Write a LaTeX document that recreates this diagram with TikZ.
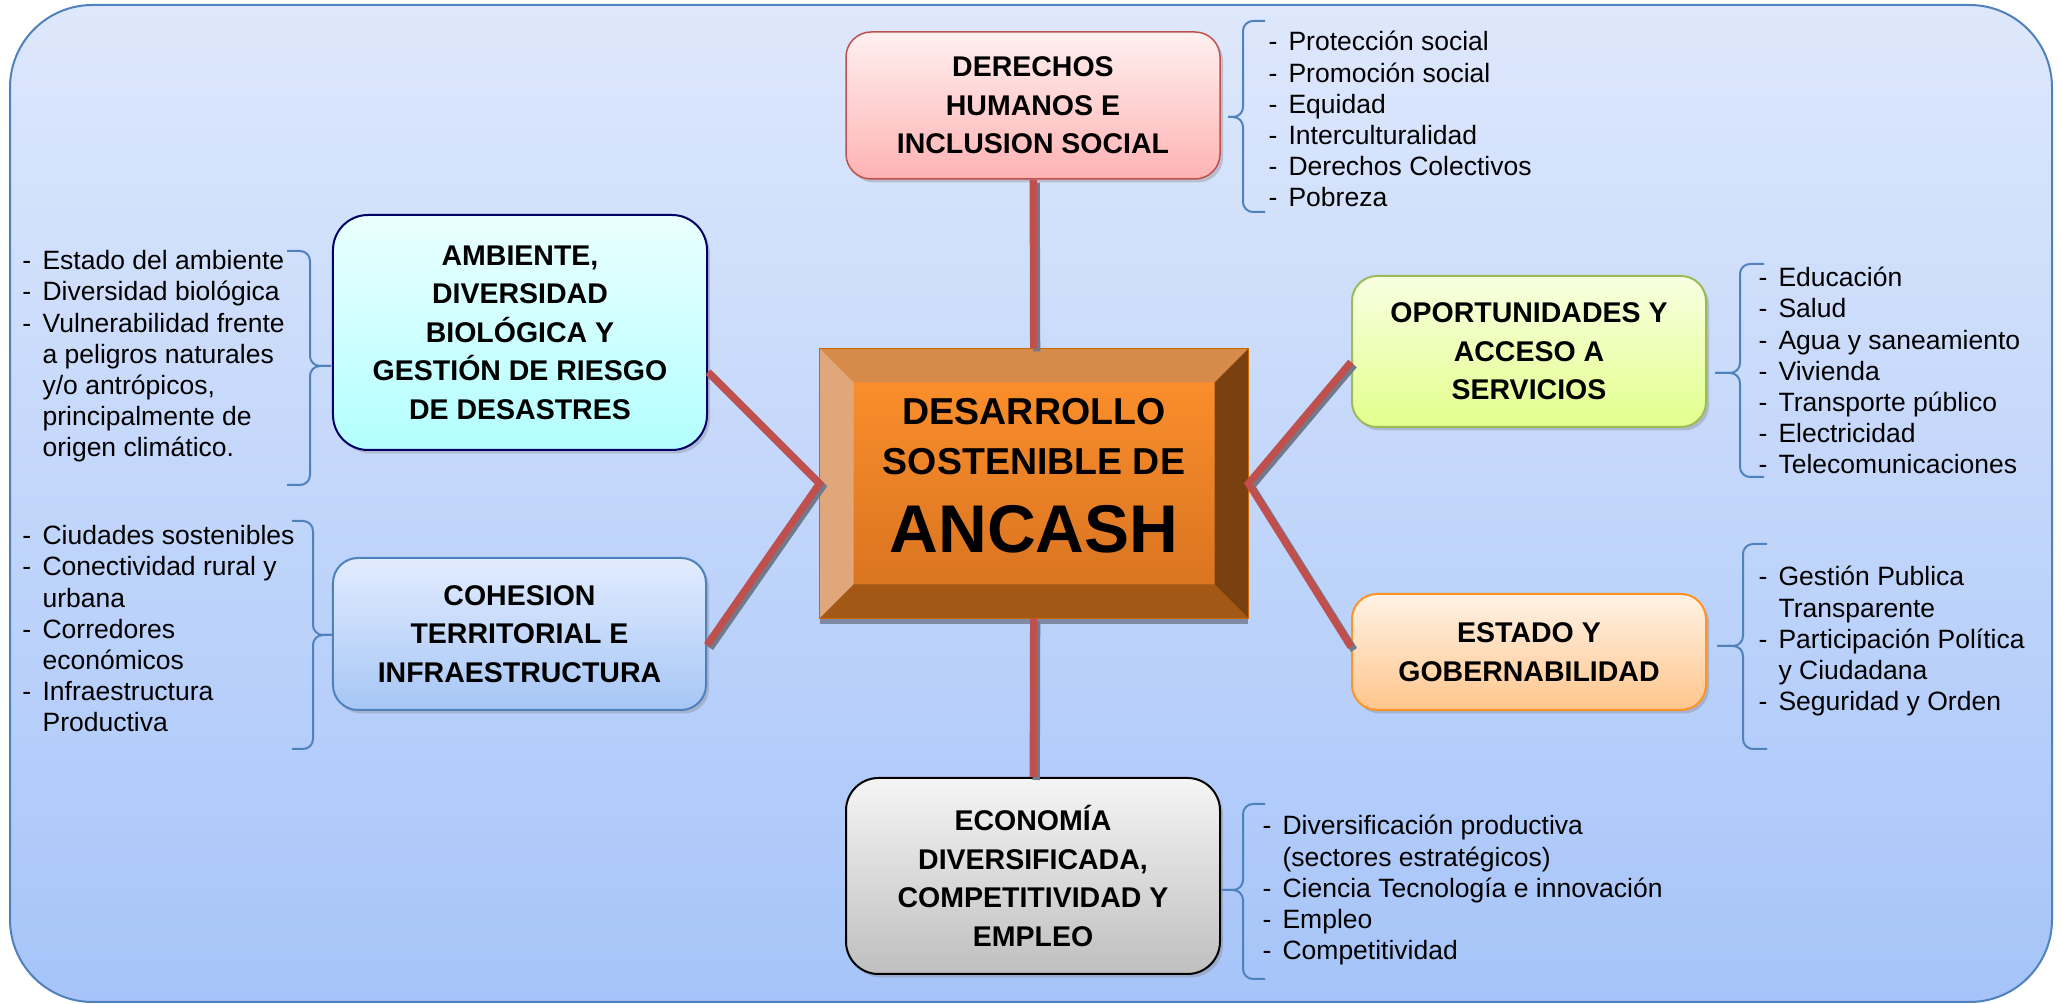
\documentclass[tikz,border=0pt]{standalone}
\usepackage{fontspec}
\setmainfont{Liberation Sans}
\usetikzlibrary{positioning,calc,shadows}

\definecolor{bgtop}{RGB}{222,232,252}
\definecolor{bgbot}{RGB}{166,196,249}
\definecolor{frameblue}{RGB}{79,129,189}
\definecolor{linkred}{RGB}{192,80,77}
\definecolor{shadegray}{RGB}{112,122,140}
\definecolor{coretop}{RGB}{255,146,46}
\definecolor{corebot}{RGB}{212,112,30}
\definecolor{bevtop}{RGB}{214,139,75}
\definecolor{bevleft}{RGB}{224,168,122}
\definecolor{bevright}{RGB}{122,65,16}
\definecolor{bevbot}{RGB}{163,88,22}
\definecolor{cohtop}{RGB}{226,236,255}
\definecolor{cohbot}{RGB}{166,198,245}
\definecolor{opoedge}{RGB}{155,187,89}

\newcommand{\topicfont}{\fontsize{11.4}{15.4}\selectfont\bfseries}
\newcommand{\itemfont}{\fontsize{10.6}{12.45}\selectfont}
% tip x, body x, arm x, top y, bottom y, middle y
\newcommand{\listbrace}[6]{%
  \draw[bracket] (#3,#4) -- (#2,#4) -- (#2,#6) -- (#1,#6);
  \draw[bracket] (#3,#5) -- (#2,#5) -- (#2,#6) -- (#1,#6);}

\begin{document}
\begin{tikzpicture}[x=0.4pt, y=-0.4pt,
    topic/.style={draw, rounded corners=10pt, align=center, font=\topicfont, inner sep=0pt, line width=0.8pt,
      drop shadow={shadow xshift=1.2pt, shadow yshift=-1.4pt, opacity=0.35}},
    core/.style={draw=orange!80!black, line width=0.4pt, top color=coretop, bottom color=corebot,
      align=center, inner sep=0pt, font=\fontsize{15}{20}\selectfont\bfseries,
      minimum width=171.2pt, minimum height=107.6pt,
      drop shadow={shadow xshift=0pt, shadow yshift=-2.4pt, fill=shadegray, opacity=0.8}},
    items/.style={inner sep=0pt, font=\itemfont, anchor=west},
    link/.style={line width=2.9pt, draw=linkred},
    linkshade/.style={line width=2.9pt, draw=shadegray, transform canvas={shift={(1.2pt,-1.2pt)}}},
    bracket/.style={draw=frameblue, line width=0.8pt, rounded corners=4pt},
]
\useasboundingbox (0,0) rectangle (2062,1004);

% Background
\draw[frameblue, line width=0.8pt, rounded corners=33pt, top color=bgtop, bottom color=bgbot]
  (10,5) rectangle (2052,1002);

% Centre
\node[core, text depth=6.4pt] (core) at (1034,483.5)
  {DESARROLLO\\SOSTENIBLE DE\\[11pt]{\fontsize{27}{27}\selectfont ANCASH}};
\fill[bevtop] (core.north west) -- (core.north east) -- ([shift={(-13.6pt,-13.6pt)}]core.north east)
  -- ([shift={(13.6pt,-13.6pt)}]core.north west) -- cycle;
\fill[bevleft] (core.north west) -- ([shift={(13.6pt,-13.6pt)}]core.north west)
  -- ([shift={(13.6pt,13.6pt)}]core.south west) -- (core.south west) -- cycle;
\fill[bevright] (core.north east) -- (core.south east) -- ([shift={(-13.6pt,13.6pt)}]core.south east)
  -- ([shift={(-13.6pt,-13.6pt)}]core.north east) -- cycle;
\fill[bevbot] (core.south west) -- ([shift={(13.6pt,13.6pt)}]core.south west)
  -- ([shift={(-13.6pt,13.6pt)}]core.south east) -- (core.south east) -- cycle;
\draw[orange!80!black, line width=0.4pt] (core.north west) rectangle (core.south east);

% Topics
\node[topic, draw=linkred, line width=0.6pt, top color=red!6, bottom color=red!30!white,
  minimum width=149.6pt, minimum height=58.8pt] (der) at (1033,105.5)
  {DERECHOS\\HUMANOS E\\INCLUSION SOCIAL};
\node[topic, draw=blue!40!black, rounded corners=14pt, top color=cyan!8, bottom color=cyan!30!white,
  minimum width=149.6pt, minimum height=94pt] (amb) at (520,332.5)
  {AMBIENTE,\\DIVERSIDAD\\BIOLÓGICA Y\\GESTIÓN DE RIESGO\\DE DESASTRES};
\node[topic, draw=frameblue, top color=cohtop, bottom color=cohbot,
  minimum width=149.2pt, minimum height=60.8pt] (coh) at (519.5,634)
  {COHESION\\TERRITORIAL E\\INFRAESTRUCTURA};
\node[topic, draw=opoedge, top color=lime!12, bottom color=lime!45!white,
  minimum width=141.6pt, minimum height=60.4pt] (opo) at (1529,351.5)
  {OPORTUNIDADES Y\\ACCESO A\\SERVICIOS};
\node[topic, draw=orange!85!white, top color=orange!10, bottom color=orange!45!white,
  minimum width=141.6pt, minimum height=46.4pt] (est) at (1529,652)
  {ESTADO Y\\GOBERNABILIDAD};
\node[topic, draw=black, rounded corners=13pt, top color=gray!8, bottom color=gray!50,
  minimum width=149.6pt, minimum height=78.4pt] (eco) at (1033,876)
  {ECONOMÍA\\DIVERSIFICADA,\\COMPETITIVIDAD Y\\EMPLEO};

% Links
\draw[linkshade] (der) -- (core);
\draw[link] (der) -- (core);
\draw[linkshade] (core) -- (eco);
\draw[link] (core) -- (eco);
\draw[linkshade] ([yshift=-15.8pt]amb.east) -- (core.west) -- ([yshift=-4.4pt]coh.east);
\draw[link] ([yshift=-15.8pt]amb.east) -- (core.west) -- ([yshift=-4.4pt]coh.east);
\draw[linkshade] ([yshift=-4.2pt]opo.west) -- (core.east) -- ([yshift=2pt]est.west);
\draw[link] ([yshift=-4.2pt]opo.west) -- (core.east) -- ([yshift=2pt]est.west);

% Lists
\node[items] (derlist) at (1268,122.5) {\begin{tabular}{@{}l@{\hspace{4.5pt}}l@{}}
  -&Protección social\\ -&Promoción social\\ -&Equidad\\ -&Interculturalidad\\
  -&Derechos Colectivos\\ -&Pobreza\end{tabular}};
\node[items] (amblist) at (22,357) {\begin{tabular}{@{}l@{\hspace{4.5pt}}l@{}}
  -&Estado del ambiente\\ -&Diversidad biológica\\ -&Vulnerabilidad frente\\ &a peligros naturales\\
  &y/o antrópicos,\\ &principalmente de\\ &origen climático.\end{tabular}};
\node[items] (cohlist) at (22,632) {\begin{tabular}{@{}l@{\hspace{4.5pt}}l@{}}
  -&Ciudades sostenibles\\ -&Conectividad rural y\\ &urbana\\ -&Corredores\\
  &económicos\\ -&Infraestructura\\ &Productiva\end{tabular}};
\node[items] (opolist) at (1758,374) {\begin{tabular}{@{}l@{\hspace{4.5pt}}l@{}}
  -&Educación\\ -&Salud\\ -&Agua y saneamiento\\ -&Vivienda\\ -&Transporte público\\
  -&Electricidad\\ -&Telecomunicaciones\end{tabular}};
\node[items] (estlist) at (1758,642) {\begin{tabular}{@{}l@{\hspace{4.5pt}}l@{}}
  -&Gestión Publica\\ &Transparente\\ -&Participación Política\\ &y Ciudadana\\
  -&Seguridad y Orden\end{tabular}};
\node[items] (ecolist) at (1262,891) {\begin{tabular}{@{}l@{\hspace{4.5pt}}l@{}}
  -&Diversificación productiva\\ &(sectores estratégicos)\\ -&Ciencia Tecnología e innovación\\
  -&Empleo\\ -&Competitividad\end{tabular}};

% Braces
\listbrace{1228}{1243}{1265}{21}{212}{117}
\listbrace{331}{310}{287}{251}{485}{366}
\listbrace{332}{313}{292}{521}{749}{635}
\listbrace{1715}{1740}{1764}{264}{477}{373}
\listbrace{1717}{1743}{1767}{544}{749}{646}
\listbrace{1222}{1243}{1265}{804}{979}{890}
\end{tikzpicture}
\end{document}
